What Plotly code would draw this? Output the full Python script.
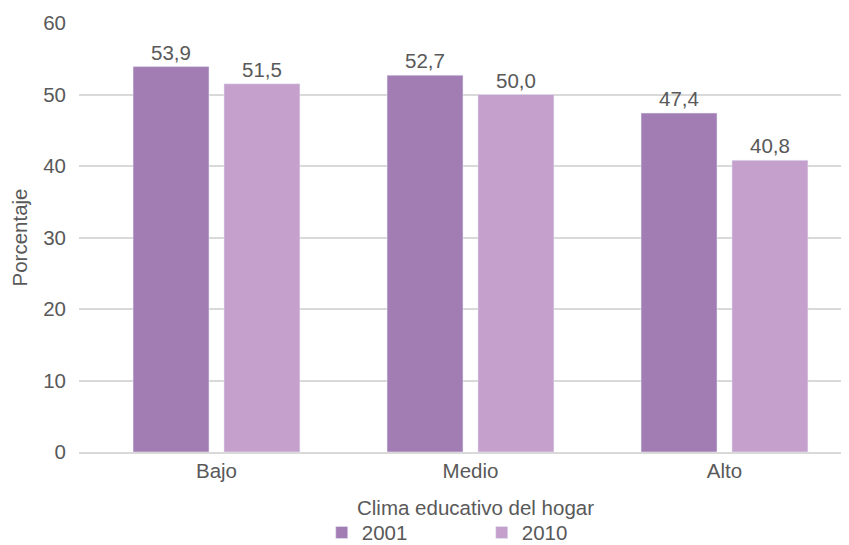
import plotly.graph_objects as go

categories = ["Bajo", "Medio", "Alto"]
values_2001 = [53.9, 52.7, 47.4]
values_2010 = [51.5, 50.0, 40.8]
y_ticks = [0, 10, 20, 30, 40, 50, 60]


def fmt(v):
    return f"{v:.1f}".replace(".", ",")


FS = 20.5
font = dict(family="Liberation Sans, Arial, sans-serif", size=FS, color="#595959")

fig = go.Figure()
fig.add_trace(go.Bar(
    x=categories, y=values_2001, name="2001",
    marker_color="#A27DB4",
    text=[fmt(v) for v in values_2001], textposition="outside",
    textfont=dict(size=FS, color="#595959"), cliponaxis=False,
))
fig.add_trace(go.Bar(
    x=categories, y=values_2010, name="2010",
    marker_color="#C5A0CD",
    text=[fmt(v) for v in values_2010], textposition="outside",
    textfont=dict(size=FS, color="#595959"), cliponaxis=False,
))

# page body adds an 8px offset, margins compensate for it
fig.update_layout(
    width=849, height=545,
    margin=dict(l=71, r=0, t=15, b=101, autoexpand=False),
    paper_bgcolor="white", plot_bgcolor="white",
    font=font,
    barmode="group", bargap=0.284, bargroupgap=0.165,
    uniformtext=dict(minsize=FS),
    legend=dict(
        orientation="h", x=0.312, xanchor="left",
        y=-0.188, yanchor="middle",
        entrywidth=115, font=dict(size=FS, color="#595959"),
        itemwidth=30,
    ),
)
# x axis title placed as paper annotation (standoff is capped without autoexpand)
fig.add_annotation(
    text="Clima educativo del hogar", xref="paper", yref="paper",
    x=0.5096, y=-0.1305, xanchor="center", yanchor="middle",
    showarrow=False, font=dict(size=FS, color="#595959"),
)
fig.update_xaxes(
    range=[-0.5413, 2.5217],
    showline=True, linecolor="#d9d9d9", linewidth=1.5, ticks="",
)
fig.update_yaxes(
    title=dict(text="Porcentaje", standoff=20, font=dict(size=FS)),
    automargin=True,
    range=[0, 60], tickvals=y_ticks, showgrid=True, gridcolor="#d9d9d9",
    gridwidth=1.5, zeroline=False, ticks="", ticklabelstandoff=12,
)

fig.write_html("out.html")
